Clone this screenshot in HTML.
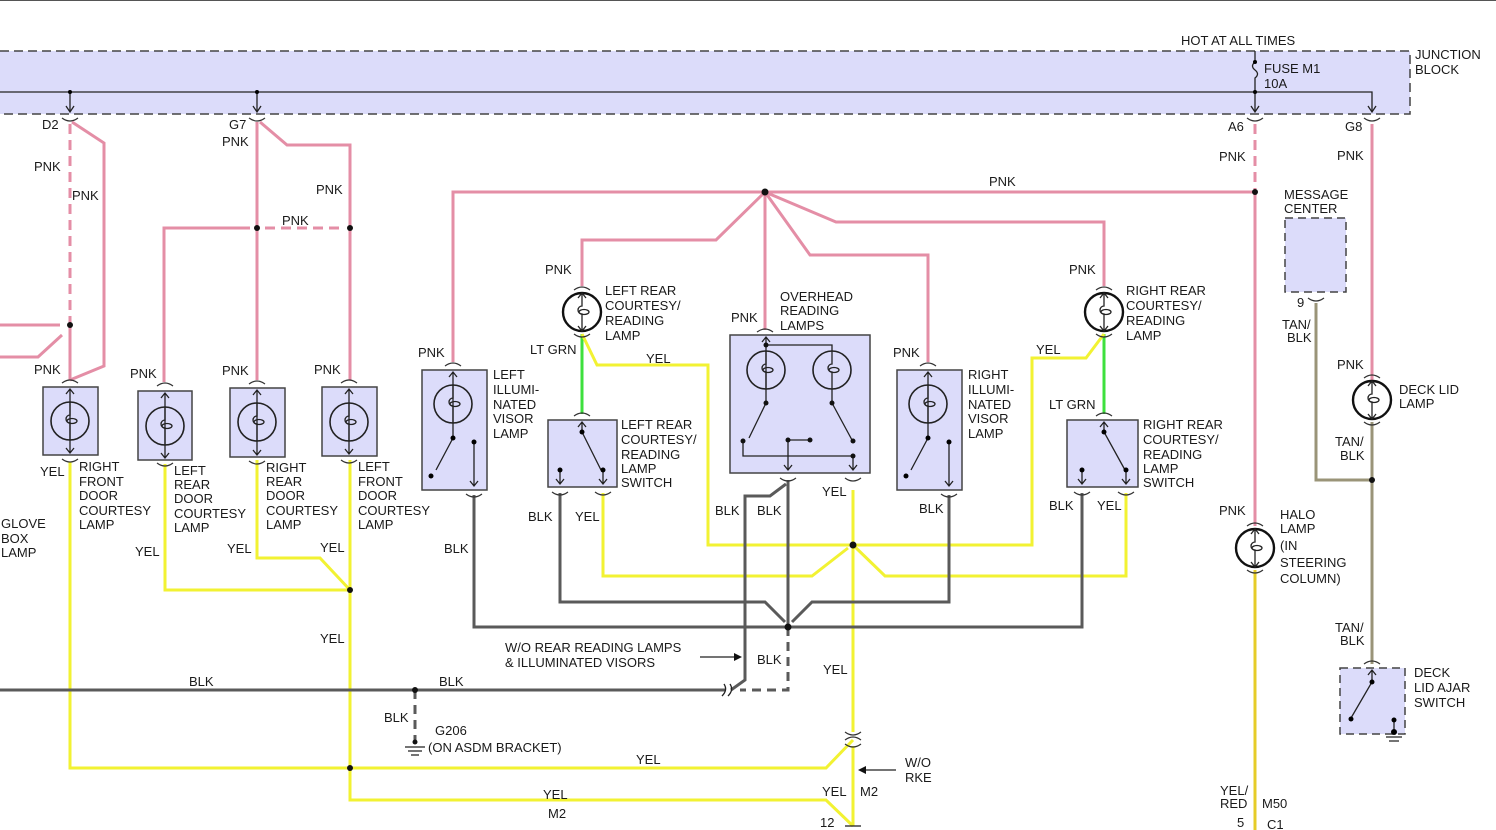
<!DOCTYPE html>
<html><head><meta charset="utf-8"><style>
html,body{margin:0;padding:0;background:#fff}
svg{display:block}
text{font-family:"Liberation Sans",sans-serif;font-size:13px;fill:#1a1a1a}
.pk{stroke:#e48ea6;stroke-width:3;fill:none}
.ye{stroke:#f2f232;stroke-width:3;fill:none}
.bk{stroke:#5a5a5a;stroke-width:3;fill:none}
.gr{stroke:#3ee03e;stroke-width:3;fill:none}
.tn{stroke:#9a9478;stroke-width:3;fill:none}
.box{fill:#dcdcfa;stroke:#444;stroke-width:1.5}
.dbox{fill:#dcdcfa;stroke:#444;stroke-width:1.5;stroke-dasharray:8 5}
.ln{stroke:#222;stroke-width:1.3;fill:none}
.cn{stroke:#333;stroke-width:1.2;fill:none}
</style></head><body>
<svg width="1496" height="830" viewBox="0 0 1496 830" xmlns="http://www.w3.org/2000/svg">
<defs>
<g id="bulb"><circle r="19" fill="none" stroke="#222" stroke-width="1.6"/><path d="M0 -19 V-6 a4 4 0 0 0 0 8 V19" class="ln"/><ellipse cx="2" cy="0" rx="5" ry="2.5" class="ln"/></g>
<g id="lb"><circle r="19" fill="none" stroke="#111" stroke-width="2.4"/><path d="M0 -19 V-6 a4 4 0 0 0 0 8 V19 M-4 -14 L0 -19 L4 -14 M-4 14 L0 19 L4 14" class="ln"/><ellipse cx="2" cy="0" rx="5" ry="2.5" class="ln"/></g>
<path id="ct" d="M-8 0 q8 -6 16 0" class="cn"/>
<path id="cb" d="M-8 0 q8 6 16 0" class="cn"/>
</defs>
<line x1="0" y1="0.5" x2="1496" y2="0.5" stroke="#555" stroke-width="1"/>
<!-- junction block -->
<rect x="-5" y="51" width="1415" height="63" fill="#dcdcfa"/>
<path d="M0 51 H1410 V114 H0" fill="none" stroke="#444" stroke-width="1.5" stroke-dasharray="9 5"/>
<path d="M0 92 H1372 V112" class="ln"/>
<path d="M1368 106 L1372 112 L1376 106" class="ln"/>
<path d="M1255 51 V62 q-5 4 0 8 q5 4 0 8 V112 M1251 106 L1255 112 L1259 106" class="ln"/>
<circle cx="1255" cy="62" r="2"/><circle cx="1255" cy="92" r="2"/>
<path d="M70 92 V112 M66 106 L70 112 L74 106 M257 92 V112 M253 106 L257 112 L261 106" class="ln"/>
<circle cx="70" cy="92" r="2"/><circle cx="257" cy="92" r="2"/>
<use href="#cb" x="70" y="118"/><use href="#cb" x="257" y="118"/><use href="#cb" x="1255" y="118"/><use href="#cb" x="1372" y="118"/>
<text x="1181" y="45">HOT AT ALL TIMES</text>
<text x="1415" y="59">JUNCTION</text><text x="1415" y="74">BLOCK</text>
<text x="1264" y="73">FUSE M1</text><text x="1264" y="88">10A</text>
<text x="42" y="129">D2</text><text x="229" y="129">G7</text><text x="1228" y="131">A6</text><text x="1345" y="131">G8</text>

<!-- pink wires -->
<path d="M70 124 V325" class="pk" stroke-dasharray="10 6"/>
<path d="M70 325 V380 M72 122 L104 143 V366 L70 380 M0 325 H60 M0 357 H38 L62 335" class="pk"/>
<path d="M257 122 V380 M260 122 L287 145 H350 V380 M250 228 H164 V382" class="pk"/>
<path d="M265 228 H343" class="pk" stroke-dasharray="10 6"/>
<path d="M453 362 V192 H1255 M765 192 L716 240 H582 V286 M765 192 V330 M765 192 L836 222 H1104 V286 M765 192 L810 255 H928 V362" class="pk"/>
<path d="M1255 124 V192" class="pk" stroke-dasharray="10 6"/>
<path d="M1255 192 V526 M1372 124 V380" class="pk"/>
<!-- green -->
<path d="M582 334 V414 M1104 334 V414" class="gr"/>
<!-- yellow -->
<path d="M70 462 V768 H826 L853 740 M165 464 V590 H350 M257 460 V558 H320 L350 590 M350 460 V800 H826 L853 826 M853 490 V732 M853 746 V826 M582 334 L597 365 H708 V545 H853 M603 493 V576 H812 L848 548 M853 545 H1032 V358 H1086 L1104 334 M853 545 L885 576 H1126 V493" class="ye"/>
<path d="M1255 570 V830" stroke="#e6cc28" stroke-width="3"/>
<!-- black -->
<path d="M474 495 V627 H1082 V493 M560 493 V602 H765 L785 622 M949 495 V602 H812 L792 622 M788 480 V627 M786 484 L770 496 H745 V680 L731 690 M0 690 H725" class="bk"/>
<path d="M788 627 V690 H740 M415 690 V742" class="bk" stroke-dasharray="9 6"/>
<path d="M722 696 q6 -6 2 -12 M728 696 q6 -6 2 -12" class="ln"/>
<!-- tan -->
<path d="M1316 303 V480 H1372 M1372 422 V664" class="tn"/>
<!-- dots -->
<g fill="#111">
<circle cx="70" cy="325" r="3"/><circle cx="257" cy="228" r="3"/><circle cx="350" cy="228" r="3"/>
<circle cx="765" cy="192" r="3.5"/><circle cx="1255" cy="192" r="3"/>
<circle cx="350" cy="590" r="3"/><circle cx="350" cy="768" r="3"/><circle cx="853" cy="545" r="3.5"/>
<circle cx="788" cy="627" r="3.5"/><circle cx="415" cy="690" r="3"/><circle cx="415" cy="742" r="2.5"/>
<circle cx="1372" cy="480" r="3"/>
</g>
<path d="M405 747 H425 M408 751 H422 M411 755 H419" class="ln"/>
<path d="M845 732 q8 6 16 0 M845 740 q8 -6 16 0 M845 744 q8 6 16 0" class="cn"/>
<path d="M845 826 H861" class="ln"/>

<!-- door courtesy lamps -->
<g>
<rect x="43" y="387" width="55" height="68" class="box"/>
<rect x="138" y="391" width="54" height="69" class="box"/>
<rect x="230" y="388" width="55" height="69" class="box"/>
<rect x="322" y="387" width="55" height="69" class="box"/>
<use href="#bulb" x="70" y="421"/><use href="#bulb" x="165" y="426"/><use href="#bulb" x="257" y="422"/><use href="#bulb" x="349" y="422"/>
<path d="M70 389 V453 M66 394 L70 389 L74 394 M66 448 L70 453 L74 448 M165 393 V458 M161 398 L165 393 L169 398 M161 453 L165 458 L169 453 M257 390 V455 M253 395 L257 390 L261 395 M253 450 L257 455 L261 450 M349 389 V454 M345 394 L349 389 L353 394 M345 449 L349 454 L353 449" class="ln"/>
<use href="#ct" x="70" y="383"/><use href="#ct" x="165" y="386"/><use href="#ct" x="257" y="384"/><use href="#ct" x="349" y="383"/>
<use href="#cb" x="70" y="459"/><use href="#cb" x="165" y="463"/><use href="#cb" x="257" y="461"/><use href="#cb" x="349" y="460"/>
</g>
<!-- left visor -->
<rect x="422" y="370" width="65" height="120" class="box"/>
<use href="#bulb" x="453" y="404"/>
<path d="M453 372 V438 L436 470 M449 377 L453 372 L457 377 M474 442 V486 M470 481 L474 486 L478 481" class="ln"/>
<circle cx="453" cy="438" r="2.5"/><circle cx="431" cy="476" r="2.5"/><circle cx="474" cy="442" r="2.5"/>
<use href="#ct" x="453" y="366"/><use href="#cb" x="474" y="494"/>
<!-- right visor -->
<rect x="897" y="370" width="65" height="120" class="box"/>
<use href="#bulb" x="928" y="404"/>
<path d="M928 372 V438 L911 470 M924 377 L928 372 L932 377 M949 442 V486 M945 481 L949 486 L953 481" class="ln"/>
<circle cx="928" cy="438" r="2.5"/><circle cx="906" cy="476" r="2.5"/><circle cx="949" cy="442" r="2.5"/>
<use href="#ct" x="928" y="366"/><use href="#cb" x="949" y="494"/>
<!-- left rear lamp + switch -->
<use href="#lb" x="582" y="312"/><use href="#ct" x="582" y="290"/><use href="#cb" x="582" y="334"/>
<rect x="548" y="420" width="69" height="67" class="box"/>
<path d="M582 422 V432 L601 470 M578 427 L582 422 L586 427 M560 470 V484 M556 479 L560 484 L564 479 M603 470 V484 M599 479 L603 484 L607 479" class="ln"/>
<circle cx="582" cy="432" r="2.5"/><circle cx="603" cy="470" r="2.5"/><circle cx="560" cy="470" r="2.5"/>
<use href="#ct" x="582" y="416"/><use href="#cb" x="560" y="492"/><use href="#cb" x="603" y="492"/>
<!-- right rear lamp + switch -->
<use href="#lb" x="1104" y="312"/><use href="#ct" x="1104" y="290"/><use href="#cb" x="1104" y="334"/>
<rect x="1067" y="420" width="71" height="67" class="box"/>
<path d="M1104 422 V432 L1125 470 M1100 427 L1104 422 L1108 427 M1082 470 V484 M1078 479 L1082 484 L1086 479 M1126 470 V484 M1122 479 L1126 484 L1130 479" class="ln"/>
<circle cx="1104" cy="432" r="2.5"/><circle cx="1126" cy="470" r="2.5"/><circle cx="1082" cy="470" r="2.5"/>
<use href="#ct" x="1104" y="416"/><use href="#cb" x="1082" y="492"/><use href="#cb" x="1126" y="492"/>
<!-- overhead -->
<rect x="730" y="335" width="140" height="138" class="box"/>
<use href="#bulb" x="766" y="370"/><use href="#bulb" x="832" y="370"/>
<path d="M766 337 V403 L749 438 M762 342 L766 337 L770 342 M766 345 H832 V351 M832 389 V403 L852 440 M743 441 V456 H853 V470 M788 440 H810 M788 440 V470 M784 465 L788 470 L792 465 M849 465 L853 470 L857 465" class="ln"/>
<g fill="#111"><circle cx="766" cy="345" r="2.5"/><circle cx="766" cy="403" r="2.5"/><circle cx="832" cy="403" r="2.5"/><circle cx="743" cy="441" r="2.5"/><circle cx="853" cy="441" r="2.5"/><circle cx="853" cy="456" r="2.5"/><circle cx="788" cy="440" r="2.5"/><circle cx="810" cy="440" r="2.5"/></g>
<use href="#ct" x="765" y="332"/><use href="#cb" x="788" y="478"/><use href="#cb" x="853" y="478"/>
<!-- message center -->
<rect x="1285" y="218" width="61" height="74" class="dbox"/>
<use href="#cb" x="1316" y="298"/>
<!-- deck lid lamp -->
<use href="#lb" x="1372" y="400"/><use href="#ct" x="1372" y="378"/><use href="#cb" x="1372" y="422"/>
<!-- halo -->
<use href="#lb" x="1255" y="548"/><use href="#ct" x="1255" y="526"/><use href="#cb" x="1255" y="570"/>
<!-- deck lid ajar switch -->
<rect x="1340" y="668" width="65" height="66" class="dbox"/>
<path d="M1372 670 V682 L1351 718 M1368 675 L1372 670 L1376 675 M1394 720 V732 M1386 737 H1402 M1389 741 H1399" class="ln"/>
<circle cx="1372" cy="682" r="2.5"/><circle cx="1351" cy="719" r="2.5"/><circle cx="1394" cy="720" r="2.5"/><circle cx="1394" cy="732" r="3"/>
<use href="#ct" x="1372" y="664"/>
<!-- arrows -->
<path d="M700 657 H738" class="ln"/><path d="M742 657 L734 653 L734 661 Z" fill="#111"/>
<path d="M896 770 H862" class="ln"/><path d="M858 770 L866 766 L866 774 Z" fill="#111"/>

<!-- labels -->
<text x="34" y="171">PNK</text><text x="72" y="200">PNK</text>
<text x="222" y="146">PNK</text><text x="316" y="194">PNK</text><text x="282" y="225">PNK</text>
<text x="34" y="374">PNK</text><text x="130" y="378">PNK</text><text x="222" y="375">PNK</text><text x="314" y="374">PNK</text>
<text x="40" y="476">YEL</text>
<text x="79" y="471">RIGHT</text><text x="79" y="486">FRONT</text><text x="79" y="500">DOOR</text><text x="79" y="515">COURTESY</text><text x="79" y="529">LAMP</text>
<text x="174" y="475">LEFT</text><text x="174" y="489">REAR</text><text x="174" y="503">DOOR</text><text x="174" y="518">COURTESY</text><text x="174" y="532">LAMP</text>
<text x="266" y="472">RIGHT</text><text x="266" y="486">REAR</text><text x="266" y="500">DOOR</text><text x="266" y="515">COURTESY</text><text x="266" y="529">LAMP</text>
<text x="358" y="471">LEFT</text><text x="358" y="486">FRONT</text><text x="358" y="500">DOOR</text><text x="358" y="515">COURTESY</text><text x="358" y="529">LAMP</text>
<text x="1" y="528">GLOVE</text><text x="1" y="543">BOX</text><text x="1" y="557">LAMP</text>
<text x="135" y="556">YEL</text><text x="227" y="553">YEL</text><text x="320" y="552">YEL</text><text x="320" y="643">YEL</text>
<text x="418" y="357">PNK</text>
<text x="493" y="379">LEFT</text><text x="493" y="394">ILLUMI-</text><text x="493" y="409">NATED</text><text x="493" y="423">VISOR</text><text x="493" y="438">LAMP</text>
<text x="444" y="553">BLK</text>
<text x="545" y="274">PNK</text>
<text x="605" y="295">LEFT REAR</text><text x="605" y="310">COURTESY/</text><text x="605" y="325">READING</text><text x="605" y="340">LAMP</text>
<text x="530" y="354">LT GRN</text><text x="646" y="363">YEL</text>
<text x="621" y="429">LEFT REAR</text><text x="621" y="444">COURTESY/</text><text x="621" y="459">READING</text><text x="621" y="473">LAMP</text><text x="621" y="487">SWITCH</text>
<text x="528" y="521">BLK</text><text x="575" y="521">YEL</text>
<text x="731" y="322">PNK</text>
<text x="780" y="301">OVERHEAD</text><text x="780" y="315">READING</text><text x="780" y="330">LAMPS</text>
<text x="715" y="515">BLK</text><text x="757" y="515">BLK</text><text x="822" y="496">YEL</text>
<text x="893" y="357">PNK</text>
<text x="968" y="379">RIGHT</text><text x="968" y="394">ILLUMI-</text><text x="968" y="409">NATED</text><text x="968" y="423">VISOR</text><text x="968" y="438">LAMP</text>
<text x="919" y="513">BLK</text>
<text x="989" y="186">PNK</text>
<text x="1069" y="274">PNK</text>
<text x="1126" y="295">RIGHT REAR</text><text x="1126" y="310">COURTESY/</text><text x="1126" y="325">READING</text><text x="1126" y="340">LAMP</text>
<text x="1036" y="354">YEL</text><text x="1049" y="409">LT GRN</text>
<text x="1143" y="429">RIGHT REAR</text><text x="1143" y="444">COURTESY/</text><text x="1143" y="459">READING</text><text x="1143" y="473">LAMP</text><text x="1143" y="487">SWITCH</text>
<text x="1049" y="510">BLK</text><text x="1097" y="510">YEL</text>
<text x="1219" y="161">PNK</text><text x="1337" y="160">PNK</text>
<text x="1284" y="199">MESSAGE</text><text x="1284" y="213">CENTER</text>
<text x="1297" y="307">9</text><text x="1282" y="329">TAN/</text><text x="1287" y="342">BLK</text>
<text x="1337" y="369">PNK</text>
<text x="1399" y="394">DECK LID</text><text x="1399" y="408">LAMP</text>
<text x="1335" y="446">TAN/</text><text x="1340" y="460">BLK</text>
<text x="1219" y="515">PNK</text>
<text x="1280" y="519">HALO</text><text x="1280" y="533">LAMP</text><text x="1280" y="550">(IN</text><text x="1280" y="567">STEERING</text><text x="1280" y="583">COLUMN)</text>
<text x="1335" y="632">TAN/</text><text x="1340" y="645">BLK</text>
<text x="1414" y="677">DECK</text><text x="1414" y="692">LID AJAR</text><text x="1414" y="707">SWITCH</text>
<text x="1220" y="795">YEL/</text><text x="1220" y="808">RED</text><text x="1262" y="808">M50</text>
<text x="1237" y="827">5</text><text x="1267" y="829">C1</text>
<text x="505" y="652">W/O REAR READING LAMPS</text><text x="505" y="667">&amp; ILLUMINATED VISORS</text>
<text x="757" y="664">BLK</text><text x="823" y="674">YEL</text>
<text x="189" y="686">BLK</text><text x="439" y="686">BLK</text>
<text x="384" y="722">BLK</text><text x="435" y="735">G206</text><text x="428" y="752">(ON ASDM BRACKET)</text>
<text x="636" y="764">YEL</text>
<text x="905" y="767">W/O</text><text x="905" y="782">RKE</text>
<text x="543" y="799">YEL</text><text x="548" y="818">M2</text>
<text x="822" y="796">YEL</text><text x="860" y="796">M2</text>
<text x="820" y="827">12</text>
</svg>
</body></html>
